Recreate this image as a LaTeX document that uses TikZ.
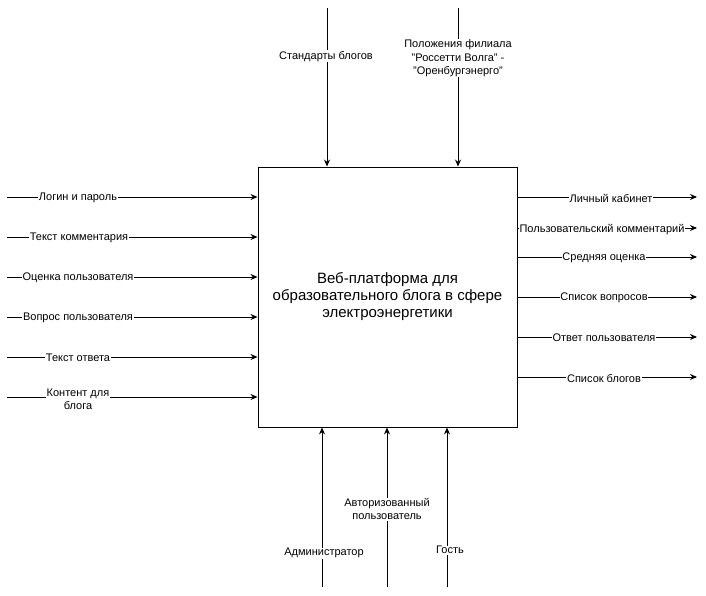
\documentclass[tikz,border=0pt]{standalone}
\usepackage{fontspec}
\setmainfont{Liberation Sans}
\usetikzlibrary{arrows.meta}
\begin{document}
\begin{tikzpicture}[x=1pt,y=-1pt,
  flow/.style={draw=black,line width=0.9pt,-{Stealth[length=7pt,width=6pt]}},
  lbl/.style={fill=white,inner sep=0.6pt,align=center,yshift=-1.2pt,
    font=\fontsize{11}{13.5}\selectfont},
  mainbox/.style={draw=black,line width=0.9pt,minimum width=259pt,minimum height=260pt,
    align=center,font=\fontsize{15}{17}\selectfont}]
\useasboundingbox (0,0) rectangle (706,596);

% central activity
\node[mainbox] (box) at (387.5,297) {Веб-платформа для\\образовательного блога в сфере\\электроэнергетики};

% inputs (left)
\foreach \n/\y in {1/197,2/237,3/277,4/317,5/357,6/397}
  \coordinate (i\n) at (7,\y);
\foreach \n in {1,...,6}
  \draw[flow] (i\n) -- (i\n -| box.west);
\node[lbl] (li1) at (78,197) {Логин и пароль};
\node[lbl] (li2) at (79,237) {Текст комментария};
\node[lbl] (li3) at (78,277) {Оценка пользователя};
\node[lbl] (li4) at (78,317) {Вопрос пользователя};
\node[lbl] (li5) at (78,357) {Текст ответа};
\node[lbl] (li6) at (78,398) {Контент для\\блога};

% outputs (right)
\foreach \n/\y in {1/197,2/228,3/257,4/297,5/337,6/377}
  \coordinate (o\n) at (697,\y);
\foreach \n in {1,...,6}
  \draw[flow] (o\n -| box.east) -- (o\n);
\node[lbl] (lo1) at (611,197) {Личный кабинет};
\node[lbl] (lo2) at (602,228) {Пользовательский комментарий};
\node[lbl] (lo3) at (604,257) {Средняя оценка};
\node[lbl] (lo4) at (604,297) {Список вопросов};
\node[lbl] (lo5) at (604,337) {Ответ пользователя};
\node[lbl] (lo6) at (604,377) {Список блогов};

% controls (top)
\coordinate (c1) at (327,8);
\coordinate (c2) at (458,8);
\draw[flow] (c1) -- (c1 |- box.north);
\draw[flow] (c2) -- (c2 |- box.north);
\node[lbl] (lc1) at (326,55) {Стандарты блогов};
\node[lbl] (lc2) at (458,57) {Положения филиала\\"Россетти Волга" -\\"Оренбургэнерго"};

% mechanisms (bottom)
\coordinate (m1) at (322,587);
\coordinate (m2) at (387,587);
\coordinate (m3) at (447,587);
\draw[flow] (m1) -- (m1 |- box.south);
\draw[flow] (m2) -- (m2 |- box.south);
\draw[flow] (m3) -- (m3 |- box.south);
\node[lbl] (lm1) at (324,552) {Администратор};
\node[lbl] (lm2) at (387,508) {Авторизованный\\пользователь};
\node[lbl] (lm3) at (450,549) {Гость};
\end{tikzpicture}
\end{document}
